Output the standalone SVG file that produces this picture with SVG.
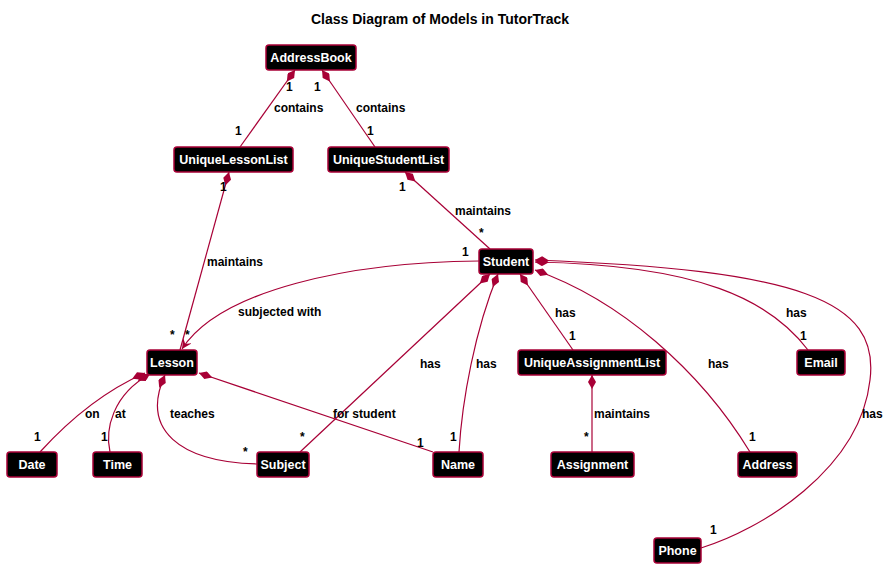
<svg xmlns="http://www.w3.org/2000/svg" width="891" height="568" viewBox="0 0 891 568">
<style>
text{font-family:"Liberation Sans",Arial,sans-serif;font-weight:bold;font-size:12px;fill:#000}
.n rect{fill:#000;stroke:#A80036;stroke-width:1.5}
.n text{fill:#fff;text-anchor:middle;font-size:12.5px}
.e path{fill:none;stroke:#A80036;stroke-width:1.2}
.t{font-size:14px;text-anchor:middle}
</style>
<defs>
<marker id="d" viewBox="0 0 14 8" refX="0" refY="4" markerWidth="14" markerHeight="8" markerUnits="userSpaceOnUse" orient="auto"><path d="M0,4 L7,0 L14,4 L7,8 Z" fill="#A80036"/></marker>
<marker id="a" viewBox="0 0 10 10" refX="10" refY="5" markerWidth="10" markerHeight="10" markerUnits="userSpaceOnUse" orient="auto"><path d="M0,0 L10,5 L0,10 L4,5 Z" fill="#A80036"/></marker>
</defs>
<rect width="891" height="568" fill="#fff"/>
<text class="t" x="440" y="24">Class Diagram of Models in TutorTrack</text>
<g class="e">
<path marker-start="url(#d)" d="M295,70 L240,147"/>
<path marker-start="url(#d)" d="M322,70 L375,147"/>
<path marker-start="url(#d)" d="M229,172 L180,350"/>
<path marker-start="url(#d)" d="M405,172 L490,249"/>
<path marker-end="url(#a)" d="M479,261 C350,262 220,290 182,349"/>
<path marker-start="url(#d)" d="M490,274 L300,452"/>
<path marker-start="url(#d)" d="M498,274 C475,330 462,400 459,452"/>
<path marker-start="url(#d)" d="M520,274 L573,350"/>
<path marker-start="url(#d)" d="M535,270 C620,300 700,370 750,452"/>
<path marker-start="url(#d)" d="M535,262 C700,265 770,300 808,350"/>
<path marker-start="url(#d)" d="M535,260 C800,270 880,300 870,380 C860,470 760,530 701,548"/>
<path marker-start="url(#d)" d="M592,375 L592,452"/>
<path marker-start="url(#d)" d="M145,373 C95,395 60,430 40,452"/>
<path marker-start="url(#d)" d="M150,374 C112,395 105,430 110,452"/>
<path marker-start="url(#d)" d="M165,375 C140,430 180,462 257,464"/>
<path marker-start="url(#d)" d="M199,373 L433,452"/>
</g>
<g id="labels">
<text x="274" y="112">contains</text><text x="286" y="91">1</text><text x="235" y="135">1</text>
<text x="356" y="112">contains</text><text x="314" y="91">1</text><text x="367" y="135">1</text>
<text x="207" y="266">maintains</text><text x="220" y="191">1</text><text x="185" y="339">*</text>
<text x="455" y="215">maintains</text><text x="399" y="191">1</text><text x="479" y="237">*</text>
<text x="238" y="316">subjected with</text><text x="462" y="256">1</text><text x="170" y="339">*</text>
<text x="420" y="368">has</text><text x="300" y="441">*</text>
<text x="476" y="368">has</text><text x="450" y="441">1</text>
<text x="555" y="317">has</text><text x="569" y="340">1</text>
<text x="708" y="368">has</text><text x="749" y="441">1</text>
<text x="786" y="317">has</text><text x="800" y="340">1</text>
<text x="862" y="418">has</text><text x="710" y="534">1</text>
<text x="594" y="418">maintains</text><text x="584" y="441">*</text>
<text x="85" y="418">on</text><text x="34" y="441">1</text>
<text x="115" y="418">at</text><text x="101" y="441">1</text>
<text x="170" y="418">teaches</text><text x="243" y="456">*</text>
<text x="333" y="418">for student</text><text x="417" y="447">1</text>
</g>
<g class="n" id="AddressBook"><rect x="266" y="45" width="90" height="25" rx="3"/><text x="311" y="62">AddressBook</text></g>
<g class="n" id="UniqueLessonList"><rect x="174" y="147" width="119" height="25" rx="3"/><text x="233.5" y="164">UniqueLessonList</text></g>
<g class="n" id="UniqueStudentList"><rect x="328" y="147" width="121" height="25" rx="3"/><text x="388.5" y="164">UniqueStudentList</text></g>
<g class="n" id="Student"><rect x="479" y="249" width="54" height="25" rx="3"/><text x="506" y="266">Student</text></g>
<g class="n" id="Lesson"><rect x="147" y="350" width="50" height="25" rx="3"/><text x="172" y="367">Lesson</text></g>
<g class="n" id="UniqueAssignmentList"><rect x="518" y="350" width="148" height="25" rx="3"/><text x="592" y="367">UniqueAssignmentList</text></g>
<g class="n" id="Email"><rect x="797" y="350" width="48" height="25" rx="3"/><text x="821" y="367">Email</text></g>
<g class="n" id="Date"><rect x="7" y="452" width="50" height="25" rx="3"/><text x="32" y="469">Date</text></g>
<g class="n" id="Time"><rect x="93" y="452" width="49" height="25" rx="3"/><text x="117.5" y="469">Time</text></g>
<g class="n" id="Subject"><rect x="257" y="452" width="52" height="25" rx="3"/><text x="283" y="469">Subject</text></g>
<g class="n" id="Name"><rect x="433" y="452" width="50" height="25" rx="3"/><text x="458" y="469">Name</text></g>
<g class="n" id="Assignment"><rect x="551" y="452" width="83" height="25" rx="3"/><text x="592.5" y="469">Assignment</text></g>
<g class="n" id="Address"><rect x="738" y="452" width="59" height="25" rx="3"/><text x="767.5" y="469">Address</text></g>
<g class="n" id="Phone"><rect x="654" y="538" width="47" height="25" rx="3"/><text x="677.5" y="555">Phone</text></g>
</svg>
